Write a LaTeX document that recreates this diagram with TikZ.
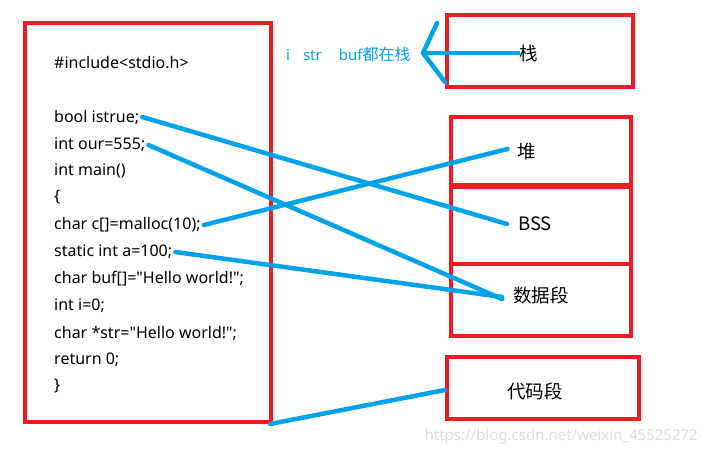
\documentclass[tikz,border=0pt]{standalone}
\usepackage{fontspec}
\setmainfont{Noto Sans}
\newfontfamily\cjk{Noto Sans CJK SC}
\usetikzlibrary{positioning}
\definecolor{paintred}{RGB}{237,28,36}
\definecolor{paintblue}{RGB}{0,162,232}
\tikzset{
  frame/.style = {rectangle, draw=paintred, line width=4pt, inner sep=0},
  code/.style  = {anchor=west, inner sep=1pt, font=\fontsize{16}{18}\selectfont},
  seg/.style   = {inner sep=1pt, font=\cjk\fontsize{18.5}{20}\selectfont},
  link/.style  = {draw=paintblue, line width=4.5pt, line cap=round, line join=round},
  note/.style  = {anchor=west, inner sep=0, text=paintblue, font=\fontsize{15}{17}\selectfont}
}

\begin{document}
\begin{tikzpicture}[x=1pt,y=-1pt]
  \useasboundingbox (0,0) rectangle (707,456);
  % frames
  \node[frame, minimum width=246pt, minimum height=399pt] (src)   at (148,222.5) {};
  \node[frame, minimum width=186pt, minimum height=72pt]  (stack) at (540,51) {};
  \node[frame, minimum width=180pt, minimum height=219pt] (mem)   at (541,226.5) {};
  \draw[paintred, line width=6pt] (mem.west |- 0,186) -- (mem.east |- 0,186);
  \draw[paintred, line width=4pt] (mem.west |- 0,264) -- (mem.east |- 0,264);
  \node[frame, minimum width=192pt, minimum height=62pt]  (text)  at (543,388) {};
  % source lines
  \node[code] (inc)  at (53,63)  {\#include<stdio.h>};
  \node[code] (bool) at (53,117) {bool istrue;};
  \node[code] (our)  at (53,145) {int our=555;};
  \node[code] (main) at (53,171) {int main()};
  \node[code] (lbr)  at (53,197) {\{};
  \node[code] (mal)  at (53,225) {char c[]=malloc(10);};
  \node[code] (sta)  at (53,252) {static int a=100;};
  \node[code] (buf)  at (53,279) {char buf[]=\textquotedbl Hello world!\textquotedbl;};
  \node[code] (ii)   at (53,306) {int i=0;};
  \node[code] (str)  at (53,333) {char *str=\textquotedbl Hello world!\textquotedbl;};
  \node[code] (ret)  at (53,360) {return 0;};
  \node[code] (rbr)  at (53,386) {\}};
  % segment labels
  \node[seg] (zhan) at (529,53)  {栈};
  \node[seg] (dui)  at (527,152) {堆};
  \node[seg] (bss)  at (535,224) {BSS};
  \node[seg] (data) at (541,295) {数据段};
  \node[seg] (dm)   at (535,391) {代码段};
  \node[note] (stk) at (286,54) {i\hspace{13pt}str\hspace{17pt}buf{\cjk\fontsize{16}{17}\selectfont 都在栈}};
  % links
  \draw[link] ([xshift=2pt]bool.east) -- ([xshift=-10pt]bss.west);
  \draw[link] ([xshift=2pt]our.east)  -- ([xshift=-10pt,yshift=-4pt]data.west);
  \draw[link] ([xshift=2pt]mal.east)  -- ([xshift=-9pt,yshift=3pt]dui.west);
  \draw[link] ([xshift=2pt]sta.east)  -- ([xshift=-10pt,yshift=-2pt]data.west);
  \draw[link] ([xshift=-3pt]src.south east) -- ([yshift=-2pt]text.west);
  \coordinate (tip)  at (423,53);
  \coordinate (tipu) at (437,23);
  \coordinate (tipl) at (445,82);
  \draw[link] (zhan.west) -- (tip);
  \draw[link] (tipu) -- (tip) -- (tipl);
  % watermark
  \node[anchor=east, inner sep=0, text=black!14, font=\fontsize{15}{17}\selectfont] (wm) at (698,437) {https://blog.csdn.net/weixin\_45525272};
\end{tikzpicture}
\end{document}
